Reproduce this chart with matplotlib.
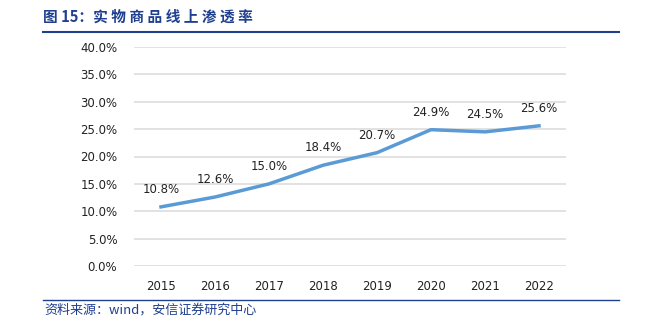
import matplotlib
matplotlib.use('agg')
from matplotlib import pyplot as plt
from matplotlib.lines import Line2D

plt.rcParams['font.family'] = ['Noto Sans CJK SC', 'DejaVu Sans']

years = ['2015', '2016', '2017', '2018', '2019', '2020', '2021', '2022']
rates = [10.8, 12.6, 15.0, 18.4, 20.7, 24.9, 24.5, 25.6]
y_ticks = [0, 5, 10, 15, 20, 25, 30, 35, 40]

title_color = '#1F3F8F'
line_color = '#5B9BD5'

fig = plt.figure(figsize=(6.64, 3.23), dpi=100)
ax = fig.add_axes([134 / 664, 1 - 266 / 323, 432 / 664, 219 / 323])

x = list(range(len(years)))
ax.plot(x, rates, color=line_color, linewidth=2.5, zorder=3)
for xi, v in zip(x, rates):
    ax.annotate(f'{v:.1f}%', (xi, v), xytext=(0, 8), textcoords='offset points',
                ha='center', va='bottom', fontsize=8.5, color='#222222', family='DejaVu Sans')

ax.set_xlim(-0.5, len(years) - 0.5)
ax.set_ylim(0, 40)
ax.set_xticks(x)
ax.set_xticklabels(years)
ax.set_yticks(y_ticks)
ax.set_yticklabels([f'{t:.1f}%' for t in y_ticks])
ax.grid(axis='y', color='#DDDDDD', linewidth=1.2)
ax.set_axisbelow(True)
for s in ax.spines.values():
    s.set_visible(False)
ax.tick_params(length=0, labelsize=8.5, colors='#222222')
ax.tick_params(axis='x', pad=10)
ax.tick_params(axis='y', pad=12)
for lab in ax.get_xticklabels() + ax.get_yticklabels():
    lab.set_family('DejaVu Sans')

fig.text(43 / 664, 1 - 17 / 323, '图 15：实 物 商 品 线 上 渗 透 率', fontsize=10.6, fontweight='bold',
         color=title_color, va='center', ha='left')
fig.add_artist(Line2D([43 / 664, 619 / 664], [1 - 32 / 323] * 2, color=title_color, linewidth=1.5))
fig.add_artist(Line2D([43 / 664, 619 / 664], [1 - 300 / 323] * 2, color=title_color, linewidth=1))
fig.text(44 / 664, 1 - 310 / 323, '资料来源：wind，安信证券研究中心', fontsize=9.4, style='italic',
         color=title_color, va='center', ha='left')

fig.savefig('out.png', dpi=100)
